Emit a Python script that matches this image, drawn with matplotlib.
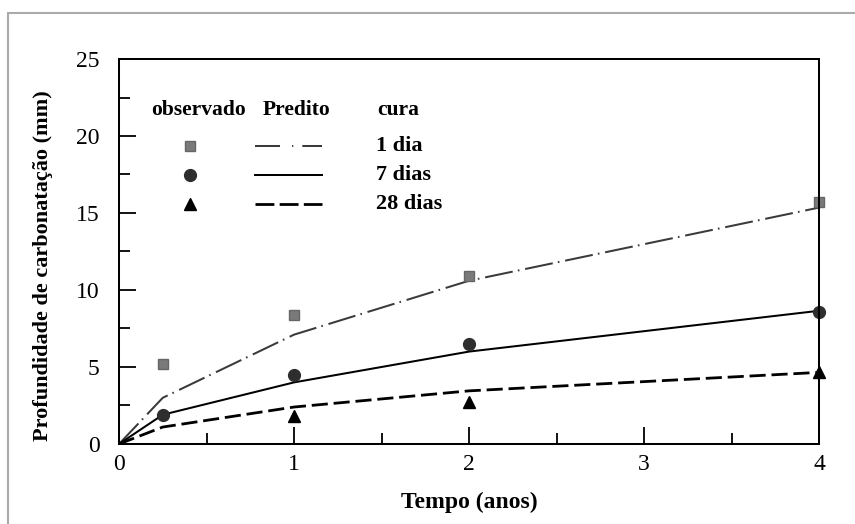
import matplotlib.pyplot as plt
from matplotlib.patches import Rectangle
from matplotlib.ticker import MultipleLocator

plt.rcParams['font.family'] = ['Liberation Serif', 'DejaVu Serif']

# observed values
obs_x_1d = [0.25, 1, 2, 4]
obs_y_1d = [5.2, 8.4, 10.9, 15.7]
obs_x_7d = [0.25, 1, 2, 4]
obs_y_7d = [1.85, 4.5, 6.5, 8.6]
obs_x_28d = [1, 2, 4]
obs_y_28d = [1.8, 2.7, 4.7]

# predicted curves
pred_x = [0, 0.25, 1, 2, 4]
pred_1d = [0, 3.0, 7.1, 10.6, 15.35]
pred_7d = [0, 1.9, 4.0, 6.0, 8.65]
pred_28d = [0, 1.1, 2.4, 3.45, 4.65]

x_ticks = [0, 1, 2, 3, 4]
y_ticks = [0, 5, 10, 15, 20, 25]

DASHDOT = [14.0, 2.6, 0.8, 2.9]
DASHED = [5.8, 2.1]

fig = plt.figure(figsize=(8.55, 5.24), dpi=100)
ax = fig.add_axes([0.1392, 0.1527, 0.8187, 0.7347])

# predicted lines
ax.plot(pred_x, pred_1d, color='#3a3a3a', lw=1.45, dashes=DASHDOT)
ax.plot(pred_x, pred_7d, color='black', lw=1.45)
ax.plot(pred_x, pred_28d, color='black', lw=2.0, dashes=DASHED)

# observed markers
ax.plot(obs_x_1d, obs_y_1d, 's', color='#7a7a7a', ms=7, mec='#666666', clip_on=False)
ax.plot(obs_x_7d, obs_y_7d, 'o', color='#2e2e2e', ms=8.5, clip_on=False)
ax.plot(obs_x_28d, obs_y_28d, '^', color='black', ms=9, clip_on=False)

ax.set_xlim(0, 4)
ax.set_ylim(0, 25)
ax.set_xticks(x_ticks)
ax.set_yticks(y_ticks)
ax.xaxis.set_minor_locator(MultipleLocator(0.5))
ax.yaxis.set_minor_locator(MultipleLocator(2.5))
ax.tick_params(which='major', direction='in', length=12.5, width=1.3, labelsize=17, pad=7)
ax.tick_params(which='minor', direction='in', length=8, width=1.3)
ax.tick_params(axis='y', pad=14)
for s in ax.spines.values():
    s.set_linewidth(1.45)

ax.set_xlabel('Tempo (anos)', fontsize=17, fontweight='bold')
ax.set_ylabel('Profundidade de carbonatação (mm)', fontsize=16, fontweight='bold')
ax.xaxis.set_label_coords(0.5, -0.125)
ax.yaxis.set_label_coords(-0.094, 0.462)

# legend built by hand
head_y = 0.868
for hx, head in zip([0.114, 0.254, 0.399], ['observado', 'Predito', 'cura']):
    ax.text(hx, head_y, head, transform=ax.transAxes, ha='center', va='center',
            fontsize=15.5, fontweight='bold')

leg_y = [0.774, 0.699, 0.623]
leg_labels = ['1 dia', '7 dias', '28 dias']
ax.plot([0.101], [leg_y[0]], 's', color='#7a7a7a', ms=7, mec='#666666', transform=ax.transAxes)
ax.plot([0.101], [leg_y[1]], 'o', color='#2e2e2e', ms=8.5, transform=ax.transAxes)
ax.plot([0.101], [leg_y[2]], '^', color='black', ms=9, transform=ax.transAxes)
ax.plot([0.194, 0.290], [leg_y[0]] * 2, color='#3a3a3a', lw=1.45, dashes=[12.4, 6.0, 0.6, 4.5],
        transform=ax.transAxes)
ax.plot([0.194, 0.290], [leg_y[1]] * 2, color='black', lw=1.45, transform=ax.transAxes)
ax.plot([0.194, 0.290], [leg_y[2]] * 2, color='black', lw=2.0, dashes=[6.8, 1.9],
        transform=ax.transAxes)
for yy, lab in zip(leg_y, leg_labels):
    ax.text(0.367, yy, lab, transform=ax.transAxes, ha='left', va='center',
            fontsize=16, fontweight='bold')

# outer gray frame (top and left edges visible)
fig.patches.append(Rectangle((8 / 855, -0.1), 1.2, 1.1 - 13 / 524, transform=fig.transFigure,
                             fill=False, edgecolor='#aaaaaa', lw=1.5))

fig.savefig('out.png', dpi=100)
